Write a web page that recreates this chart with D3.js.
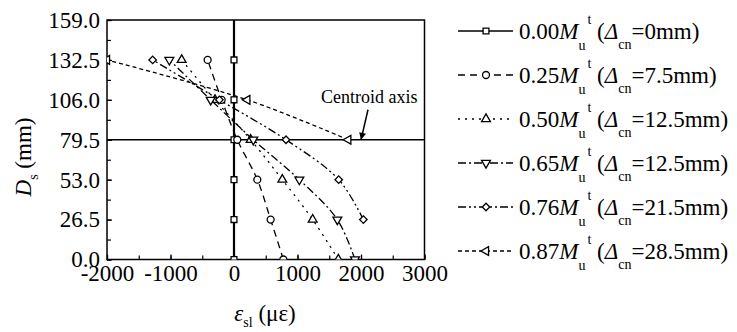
<!DOCTYPE html>
<html>
<head>
<meta charset="utf-8">
<script src="https://cdn.jsdelivr.net/npm/d3@7"></script>
<style>
  body { margin: 0; background: #fff; }
  svg text { font-family: "Liberation Serif", "Times New Roman", "DejaVu Serif", serif; }
</style>
</head>
<body>
<svg id="chart" width="737" height="332"></svg>
<script>
// section depth (mm) where the gauges sit
var depths = [0, 26.5, 53, 79.5, 106, 132.5];

// legend text per load step
var loadLabels = ['0.00', '0.25', '0.50', '0.65', '0.76', '0.87'];
var deltaLabels = ['0', '7.5', '12.5', '12.5', '21.5', '28.5'];

// strain readings (micro strain) at each depth, null = no reading
var strain000 = [0, 0, 0, 0, 0, 0];
var strain025 = [777, 577, 367, 52, -194, -415];
var strain050 = [1643, 1239, 761, 262, -299, -824];
var strain065 = [1905, 1627, 1029, 304, -367, -1018];
var strain076 = [null, 2037, 1649, 819, -230, -1281];
var strain087 = [null, null, null, 1800, 210, -2000];

var yTicks = [0, 26.5, 53, 79.5, 106, 132.5, 159];
var xTicks = [-2000, -1000, 0, 1000, 2000, 3000];
var centroidDepth = 79.5;

var series = [strain000, strain025, strain050, strain065, strain076, strain087];

var dashes = ['none', '7,5', '2,5', '8,3,2,3', '8,3,2,3,2,3', '4,3'];
var shapes = [
    {type: d3.symbolSquare, size: 34, rot: 0},
    {type: d3.symbolCircle, size: 38, rot: 0},
    {type: d3.symbolTriangle, size: 34, rot: 0},
    {type: d3.symbolTriangle, size: 34, rot: 180},
    {type: d3.symbolSquare, size: 28, rot: 45},
    {type: d3.symbolTriangle, size: 34, rot: -90}
];

var serif = '"Liberation Serif", "Times New Roman", "DejaVu Serif", serif';

var svg = d3.select('#chart');

var pLeft = 107, pRight = 424.5, pTop = 20, pBottom = 259.5;

var x = d3.scaleLinear().domain([-2000, 3000]).range([pLeft, pRight]);
var y = d3.scaleLinear().domain([0, 159]).range([pBottom, pTop]);

var defs = svg.append('defs');
defs.append('clipPath')
    .attr('id', 'plotClip')
    .append('rect')
    .attr('x', pLeft).attr('y', pTop)
    .attr('width', pRight - pLeft).attr('height', pBottom - pTop);

defs.append('marker')
    .attr('id', 'arrowHead')
    .attr('viewBox', '0 0 10 10')
    .attr('refX', 10).attr('refY', 5)
    .attr('markerWidth', 8).attr('markerHeight', 7)
    .attr('markerUnits', 'userSpaceOnUse')
    .attr('orient', 'auto')
    .append('path')
    .attr('d', 'M0,0 L10,5 L0,10 z')
    .style('fill', '#000');

// minor ticks (inward) on left and bottom
var minorY = d3.range(0, 159.01, 13.25);
var minorX = d3.range(-2000, 3000.1, 500);

svg.append('g')
    .attr('transform', 'translate(' + pLeft + ',0)')
    .call(d3.axisLeft(y).tickValues(minorY).tickSize(-4).tickFormat(''))
    .call(function(g) { g.select('.domain').remove(); });

svg.append('g')
    .attr('transform', 'translate(0,' + pBottom + ')')
    .call(d3.axisBottom(x).tickValues(minorX).tickSize(-4).tickFormat(''))
    .call(function(g) { g.select('.domain').remove(); });

// labelled axes
var yAxis = svg.append('g')
    .attr('transform', 'translate(' + pLeft + ',0)')
    .call(d3.axisLeft(y).tickValues(yTicks).tickSize(-5).tickPadding(7).tickFormat(d3.format('.1f')));

var xAxis = svg.append('g')
    .attr('transform', 'translate(0,' + pBottom + ')')
    .call(d3.axisBottom(x).tickValues(xTicks).tickSize(-5).tickPadding(5)
        .tickFormat(function(d) { return String(d); }));

[yAxis, xAxis].forEach(function(a) {
    a.attr('font-family', serif).attr('font-size', 23);
    a.selectAll('.domain').remove();
    a.selectAll('text').attr('fill', '#000');
});
svg.selectAll('.tick line').style('stroke', '#000').style('stroke-width', 1.2);

// frame
svg.append('rect')
    .attr('x', pLeft).attr('y', pTop)
    .attr('width', pRight - pLeft).attr('height', pBottom - pTop)
    .style('fill', 'none').style('stroke', '#000').style('stroke-width', 1.5);

var plot = svg.append('g').attr('clip-path', 'url(#plotClip)');

// centroid axis and zero line
plot.append('line')
    .attr('x1', pLeft).attr('x2', pRight)
    .attr('y1', y(centroidDepth)).attr('y2', y(centroidDepth))
    .style('stroke', '#000').style('stroke-width', 1.3);

plot.append('line')
    .attr('x1', x(0)).attr('x2', x(0))
    .attr('y1', pTop).attr('y2', pBottom)
    .style('stroke', '#000').style('stroke-width', 2.2);

var line = d3.line()
    .x(function(d) { return x(d.v); })
    .y(function(d) { return y(d.depth); })
    .curve(d3.curveCatmullRom);

var symbolPath = function(i) {
    return d3.symbol().type(shapes[i].type).size(shapes[i].size)();
};

series.forEach(function(vals, i) {
    var pts = depths.map(function(dp, j) { return {depth: dp, v: vals[j]}; })
        .filter(function(d) { return d.v != null; });

    if (i > 0) {
        plot.append('path')
            .datum(pts)
            .attr('d', line)
            .style('fill', 'none')
            .style('stroke', '#000')
            .style('stroke-width', 1.3)
            .style('stroke-dasharray', dashes[i]);
    }

    plot.selectAll('.pt' + i)
        .data(pts)
        .enter().append('path')
        .attr('class', 'pt' + i)
        .attr('d', symbolPath(i))
        .attr('transform', function(d) {
            return 'translate(' + x(d.v) + ',' + y(d.depth) + ') rotate(' + shapes[i].rot + ')';
        })
        .style('fill', '#fff')
        .style('stroke', '#000')
        .style('stroke-width', 1.3);
});

// centroid note
svg.append('text')
    .attr('x', 321).attr('y', 103)
    .attr('font-family', serif)
    .style('font-size', '18px')
    .text('Centroid axis');

svg.append('line')
    .attr('x1', x(2000) + 7).attr('y1', y(centroidDepth) - 30)
    .attr('x2', x(2000)).attr('y2', y(centroidDepth))
    .attr('marker-end', 'url(#arrowHead)')
    .style('stroke', '#000').style('stroke-width', 1.5);

// axis titles
var xt = svg.append('text')
    .attr('x', 265).attr('y', 321)
    .attr('text-anchor', 'middle')
    .attr('font-family', serif)
    .style('font-size', '23px');
xt.append('tspan').style('font-style', 'italic').text('ε');
xt.append('tspan').attr('dy', 6).style('font-size', '14px').text('sl');
xt.append('tspan').attr('dy', -6).text(' (με)');

var yt = svg.append('text')
    .attr('transform', 'translate(31,157) rotate(-90)')
    .attr('text-anchor', 'middle')
    .attr('font-family', serif)
    .style('font-size', '23px');
yt.append('tspan').style('font-style', 'italic').text('D');
yt.append('tspan').attr('dy', 7).style('font-size', '14px').text('s');
yt.append('tspan').attr('dy', -7).text(' (mm)');

// legend
var legend = svg.append('g').attr('font-family', serif);
var rowStep = 44, rowTop = 31;

loadLabels.forEach(function(lbl, i) {
    var ry = rowTop + i * rowStep;
    var row = legend.append('g').attr('transform', 'translate(0,' + ry + ')');

    row.append('line')
        .attr('x1', 458).attr('x2', 513)
        .attr('y1', 0).attr('y2', 0)
        .style('stroke', '#000')
        .style('stroke-width', 1.3)
        .style('stroke-dasharray', dashes[i]);

    row.append('path')
        .attr('d', symbolPath(i))
        .attr('transform', 'translate(486,0) rotate(' + shapes[i].rot + ')')
        .style('fill', '#fff')
        .style('stroke', '#000')
        .style('stroke-width', 1.3);

    var t = row.append('text')
        .attr('x', 519).attr('y', 8)
        .style('font-size', '23px');
    t.append('tspan').text(lbl);
    t.append('tspan').style('font-style', 'italic').text('M');
    t.append('tspan').attr('dy', 11).style('font-size', '14px').text('u');
    t.append('tspan').attr('dy', -26).attr('dx', 2).style('font-size', '14px').text('t');
    t.append('tspan').attr('dy', 15).text(' (');
    t.append('tspan').style('font-style', 'italic').text('Δ');
    t.append('tspan').attr('dy', 10).style('font-size', '14px').text('cn');
    t.append('tspan').attr('dy', -10).text('=' + deltaLabels[i] + 'mm)');
});
</script>
</body>
</html>
